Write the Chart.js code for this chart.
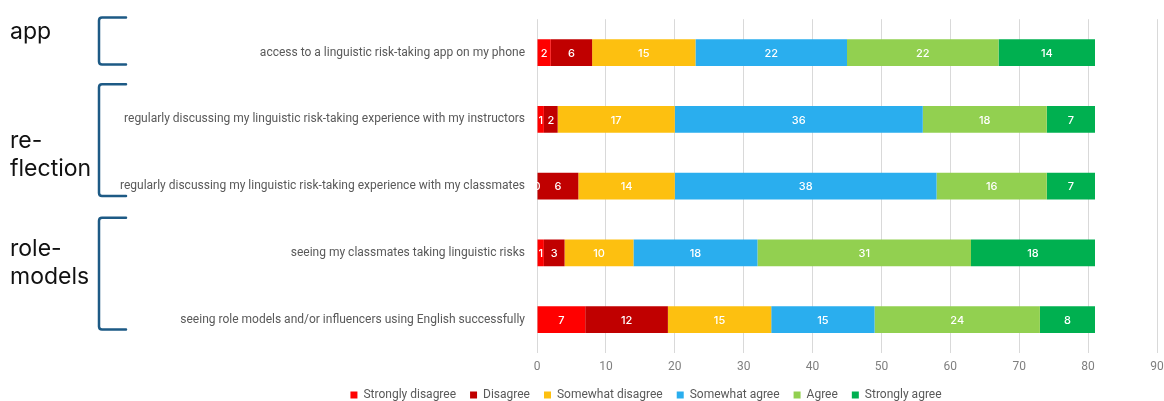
<!DOCTYPE html>
<html>
<head>
<meta charset="utf-8">
<script src="https://cdn.jsdelivr.net/npm/chart.js@4"></script>
<style>
    html, body { margin: 0; padding: 0; background: #fff; }
    #wrap { width: 1164px; height: 401px; position: relative; }
</style>
</head>
<body>
<div id="wrap"><canvas id="riskChart"></canvas></div>
<script>
// categories (top to bottom)
const categories = [
    'access to a linguistic risk-taking app on my phone',
    'regularly discussing my linguistic risk-taking experience with my instructors',
    'regularly discussing my linguistic risk-taking experience with my classmates',
    'seeing my classmates taking linguistic risks',
    'seeing role models and/or influencers using English successfully'
];

// series values, one per category
const stronglyDisagree = [2, 1, 0, 1, 7];
const disagree         = [6, 2, 6, 3, 12];
const somewhatDisagree = [15, 17, 14, 10, 15];
const somewhatAgree    = [22, 36, 38, 18, 15];
const agree            = [22, 18, 16, 31, 24];
const stronglyAgree    = [14, 7, 7, 18, 8];

const seriesNames = ['Strongly disagree', 'Disagree', 'Somewhat disagree', 'Somewhat agree', 'Agree', 'Strongly agree'];
const seriesColors = ['#ff0000', '#c00000', '#fdc010', '#2aaeee', '#92d050', '#00b050'];

// x axis ticks
const xTicks = [0, 10, 20, 30, 40, 50, 60, 70, 80, 90];

// groups shown with brackets on the far left
const groups = [
    { lines: ['app'], from: 0, to: 0, textOffset: -14 },
    { lines: ['re-', 'flection'], from: 1, to: 2, textOffset: 29 },
    { lines: ['role-', 'models'], from: 3, to: 4, textOffset: 3 }
];

const allSeries = [stronglyDisagree, disagree, somewhatDisagree, somewhatAgree, agree, stronglyAgree];

// values written in the middle of each segment
const segmentLabels = {
    id: 'segmentLabels',
    afterDatasetsDraw(chart) {
        const ctx = chart.ctx;
        ctx.save();
        ctx.fillStyle = '#ffffff';
        ctx.font = '500 11px Inter, Roboto, sans-serif';
        ctx.textAlign = 'center';
        ctx.textBaseline = 'middle';
        chart.data.datasets.forEach((ds, di) => {
            const meta = chart.getDatasetMeta(di);
            meta.data.forEach((bar, i) => {
                const cx = (bar.x + bar.base) / 2;
                ctx.fillText(String(ds.data[i]), cx, bar.y + 1);
            });
        });
        ctx.restore();
    }
};

// brackets and group names
const groupBrackets = {
    id: 'groupBrackets',
    afterLayout(chart) {
        // the legend sits a bit right of the canvas centre and a bit lower
        const lg = chart.legend;
        lg.left += 64; lg.right += 64;
        lg.top += 5; lg.bottom += 5;
    },
    afterDraw(chart) {
        const ctx = chart.ctx;
        const y = chart.scales.y;
        ctx.save();
        ctx.strokeStyle = '#1d5a85';
        ctx.lineWidth = 2.5;
        ctx.lineCap = 'round';
        ctx.lineJoin = 'round';
        groups.forEach(g => {
            const top = y.getPixelForValue(g.from) - 35;
            const bottom = y.getPixelForValue(g.to) + (g.from === g.to ? 12 : 10);
            const xl = 99, xr = 126, r = 3;
            ctx.beginPath();
            ctx.moveTo(xr, top);
            ctx.lineTo(xl + r, top);
            ctx.quadraticCurveTo(xl, top, xl, top + r);
            ctx.lineTo(xl, bottom - r);
            ctx.quadraticCurveTo(xl, bottom, xl + r, bottom);
            ctx.lineTo(xr, bottom);
            ctx.stroke();

            ctx.fillStyle = '#111111';
            ctx.font = '23px Inter, sans-serif';
            ctx.textAlign = 'left';
            ctx.textBaseline = 'alphabetic';
            const base = y.getPixelForValue(g.from) + g.textOffset;
            g.lines.forEach((line, k) => {
                ctx.fillText(line, 10, base + k * 28);
            });
        });
        ctx.restore();
    }
};

new Chart(document.getElementById('riskChart'), {
    type: 'bar',
    data: {
        labels: categories,
        datasets: allSeries.map((vals, i) => ({
            label: seriesNames[i],
            data: vals,
            backgroundColor: seriesColors[i],
            borderWidth: 0,
            categoryPercentage: 1,
            barPercentage: 0.4
        }))
    },
    options: {
        indexAxis: 'y',
        responsive: true,
        maintainAspectRatio: false,
        animation: false,
        layout: { padding: { top: 19, right: 0, bottom: -5, left: 0 } },
        plugins: {
            legend: {
                position: 'bottom',
                labels: {
                    boxWidth: 7,
                    boxHeight: 7,
                    padding: 14,
                    color: '#595959',
                    font: { family: 'Roboto, sans-serif', size: 12 }
                }
            },
            tooltip: { enabled: false }
        },
        scales: {
            x: {
                stacked: true,
                min: 0,
                max: 90,
                afterBuildTicks: (scale) => { scale.ticks = xTicks.map(v => ({ value: v })); },
                afterFit: (scale) => {
                    scale.height = 17;
                    scale.paddingRight = 7; // room for half of the "90" label only
                },
                grid: { color: '#d9d9d9', drawTicks: false },
                border: { display: false },
                ticks: {
                    padding: 7,
                    color: '#7f7f7f',
                    font: { family: 'Roboto, sans-serif', size: 12 }
                }
            },
            y: {
                stacked: true,
                grid: { display: false, drawTicks: false },
                border: { display: false },
                afterFit: (scale) => { scale.width = 537; },
                ticks: {
                    padding: 12,
                    color: '#595959',
                    font: { family: 'Roboto, sans-serif', size: 12 }
                }
            }
        }
    },
    plugins: [segmentLabels, groupBrackets]
});
</script>
</body>
</html>
